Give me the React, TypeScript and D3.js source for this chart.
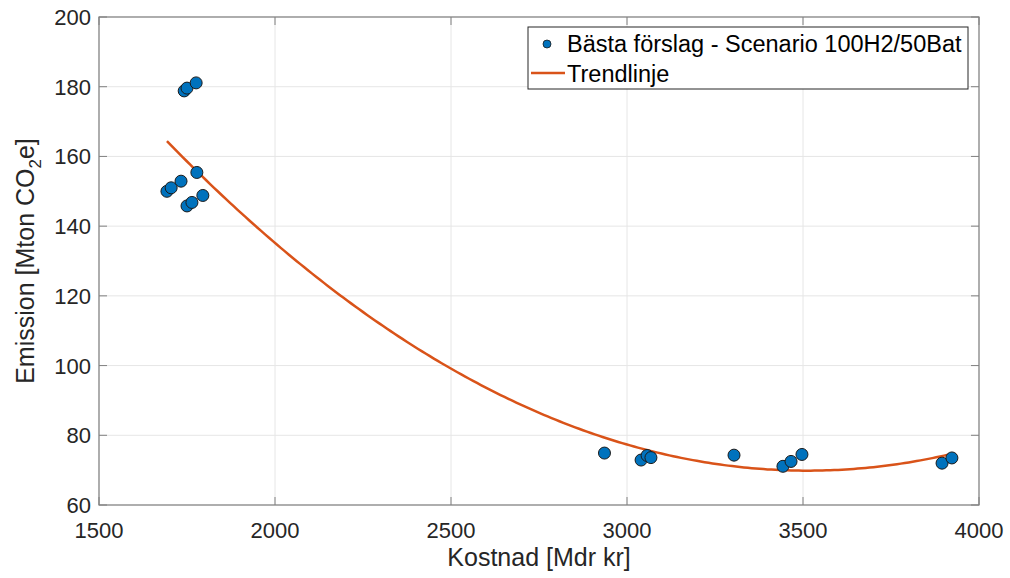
import React from "react";
import * as d3 from "d3";

const costs = [1742, 1750, 1776, 1693, 1705, 1733, 1750, 1764, 1778, 1795, 2936, 3040, 3057, 3068, 3304, 3443, 3466, 3497, 3895, 3923];
const emissions = [178.8, 179.6, 181.1, 150.0, 151.0, 152.9, 145.8, 146.8, 155.4, 148.8, 74.9, 72.9, 74.2, 73.6, 74.3, 71.1, 72.5, 74.5, 72.0, 73.5];
const xTicks = [1500, 2000, 2500, 3000, 3500, 4000];
const yTicks = [60, 80, 100, 120, 140, 160, 180, 200];
const legendLabels = ["Bästa förslag - Scenario 100H2/50Bat", "Trendlinje"];

function polyfit2(xs: number[], ys: number[]) {
  // least squares quadratic fit (trendline), centered for stability
  const mx = d3.mean(xs)!;
  const u = xs.map((x) => (x - mx) / 1000);
  const S = (p: number) => d3.sum(u, (v) => Math.pow(v, p));
  const T = (p: number) => d3.sum(u, (v, i) => Math.pow(v, p) * ys[i]);
  const A = [
    [S(4), S(3), S(2)],
    [S(3), S(2), S(1)],
    [S(2), S(1), u.length],
  ];
  const b = [T(2), T(1), T(0)];
  const det = (m: number[][]) =>
    m[0][0] * (m[1][1] * m[2][2] - m[1][2] * m[2][1]) -
    m[0][1] * (m[1][0] * m[2][2] - m[1][2] * m[2][0]) +
    m[0][2] * (m[1][0] * m[2][1] - m[1][1] * m[2][0]);
  const D = det(A);
  const coef = [0, 1, 2].map((k) => {
    const M = A.map((row, i) => row.map((v, j) => (j === k ? b[i] : v)));
    return det(M) / D;
  });
  return (x: number) => {
    const v = (x - mx) / 1000;
    return coef[0] * v * v + coef[1] * v + coef[2];
  };
}

export default function App() {
  const W = 1010, H = 578;
  const L = 99, R = 979, T = 17, B = 505;
  const x = d3.scaleLinear().domain([1500, 4000]).range([L, R]);
  const y = d3.scaleLinear().domain([60, 200]).range([B, T]);
  const fit = polyfit2(costs, emissions);
  const [xmin, xmax] = d3.extent(costs) as [number, number];
  const trend = d3.range(0, 201).map((i) => {
    const xv = xmin + ((xmax - xmin) * i) / 200;
    return [xv, fit(xv)] as [number, number];
  });
  const line = d3.line<[number, number]>().x((d) => x(d[0])).y((d) => y(d[1]));
  const font = "'Liberation Sans', Arial, Helvetica, sans-serif";
  const axisCol = "#262626";
  return (
    <svg width={W} height={H} style={{ position: "absolute", left: 0, top: 0, background: "#fff" }} fontFamily={font}>
      <rect x={0} y={0} width={W} height={H} fill="#fff" />
      {/* grid */}
      {xTicks.map((t) => (
        <line key={"gx" + t} x1={x(t)} x2={x(t)} y1={T} y2={B} stroke="#e6e6e6" strokeWidth={1} />
      ))}
      {yTicks.map((t) => (
        <line key={"gy" + t} x1={L} x2={R} y1={y(t)} y2={y(t)} stroke="#e6e6e6" strokeWidth={1} />
      ))}
      {/* box */}
      <rect x={L} y={T} width={R - L} height={B - T} fill="none" stroke="#808080" strokeWidth={1.2} />
      {/* ticks */}
      {xTicks.map((t) => (
        <g key={"tx" + t}>
          <line x1={x(t)} x2={x(t)} y1={B} y2={B - 8} stroke="#808080" />
          <line x1={x(t)} x2={x(t)} y1={T} y2={T + 8} stroke="#808080" />
          <text x={x(t)} y={538} textAnchor="middle" fontSize={22} fill={axisCol}>{t}</text>
        </g>
      ))}
      {yTicks.map((t) => (
        <g key={"ty" + t}>
          <line x1={L} x2={L + 8} y1={y(t)} y2={y(t)} stroke="#808080" />
          <line x1={R} x2={R - 8} y1={y(t)} y2={y(t)} stroke="#808080" />
          <text x={91} y={y(t) + 8} textAnchor="end" fontSize={22} fill={axisCol}>{t}</text>
        </g>
      ))}
      {/* trend */}
      <path d={line(trend) || ""} fill="none" stroke="#D95319" strokeWidth={2.5} />
      {/* points */}
      {costs.map((c, i) => (
        <circle key={"p" + i} cx={x(c)} cy={y(emissions[i])} r={6} fill="#0072BD" stroke="#1a1a1a" strokeWidth={1} />
      ))}
      {/* axis labels */}
      <text x={(L + R) / 2} y={566} textAnchor="middle" fontSize={25} fill={axisCol}>Kostnad [Mdr kr]</text>
      <text transform={`translate(34,${(T + B) / 2}) rotate(-90)`} textAnchor="middle" fontSize={25} fill={axisCol}>
        Emission [Mton CO<tspan fontSize={17} dy={7}>2</tspan><tspan dy={-7}>e]</tspan>
      </text>
      {/* legend */}
      <rect x={528} y={27} width={440} height={62} fill="#fff" stroke="#262626" strokeWidth={1} />
      <circle cx={547} cy={44} r={4} fill="#0072BD" stroke="#1a1a1a" strokeWidth={0.8} />
      <text x={567} y={52} fontSize={23.5} fill="#000">{legendLabels[0]}</text>
      <line x1={531} x2={565} y1={73} y2={73} stroke="#D95319" strokeWidth={2.5} />
      <text x={567} y={82} fontSize={23.5} fill="#000">{legendLabels[1]}</text>
    </svg>
  );
}
